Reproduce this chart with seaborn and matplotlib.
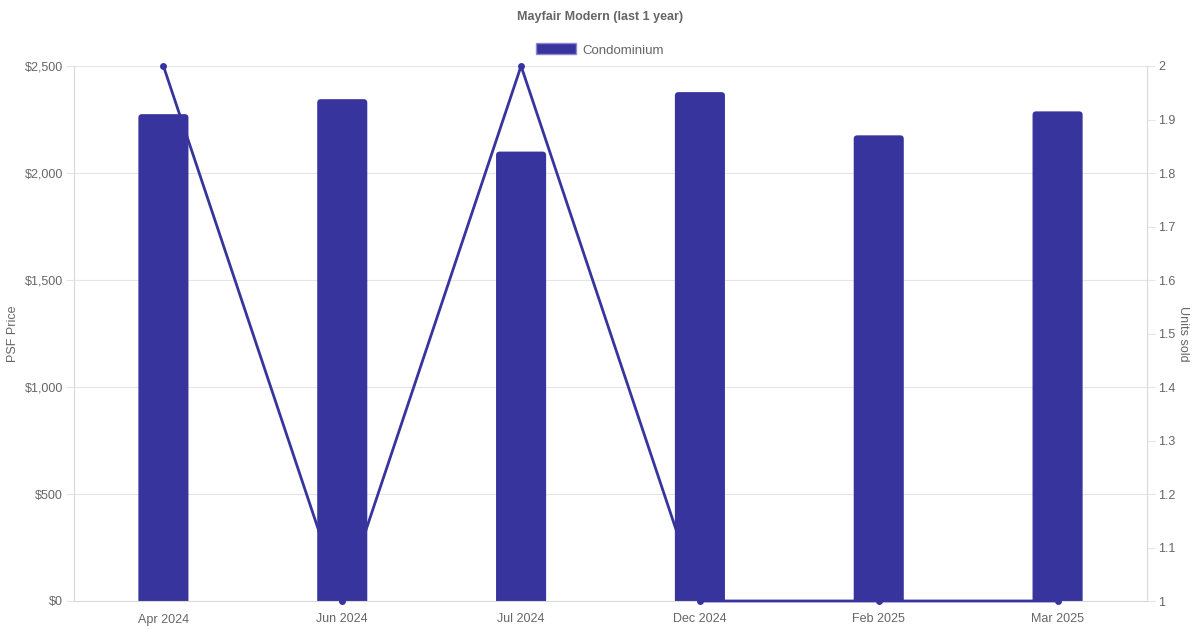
import matplotlib
matplotlib.use("Agg")
import matplotlib.pyplot as plt
import seaborn as sns
import pandas as pd
from matplotlib.patches import FancyBboxPatch, Patch

months = ["Apr 2024", "Jun 2024", "Jul 2024", "Dec 2024", "Feb 2025", "Mar 2025"]
psf_price = [2275, 2345, 2100, 2378, 2176, 2288]
units_sold = [2, 1, 2, 1, 1, 1]

color = "#38349E"
txt = "#666666"
grid = "#E5E5E5"

df = pd.DataFrame({"month": months, "psf": psf_price, "units": units_sold})

sns.set_style("white")
plt.rcParams["font.family"] = ["Liberation Sans", "DejaVu Sans"]

fig = plt.figure(figsize=(12, 6.3), dpi=100)
ax = fig.add_axes([74 / 1200, 1 - 601 / 630, (1147 - 74) / 1200, (601 - 66) / 630])

sns.barplot(data=df, x="month", y="psf", color=color, width=0.28, ax=ax,
            saturation=1, zorder=2)

# rounded top corners on bars (bottom kept square by pushing it below 0)
px_x = 1073 / 6
px_y = 535 / 2500
for p in list(ax.patches):
    x, y = p.get_x(), p.get_y()
    w, h = p.get_width(), p.get_height()
    p.remove()
    ax.add_patch(FancyBboxPatch((x, y - 30), w, h + 30,
                                boxstyle="round,pad=0,rounding_size=0.02",
                                mutation_aspect=px_x / px_y,
                                facecolor=color, edgecolor="none", zorder=2))

ax.set_xlim(-0.5, 5.5)
ax.set_ylim(0, 2500)
ax.set_yticks([0, 500, 1000, 1500, 2000, 2500])
ax.set_yticklabels([f"${v:,}" for v in [0, 500, 1000, 1500, 2000, 2500]])
ax.yaxis.grid(True, color=grid, linewidth=0.8, zorder=0)
ax.set_axisbelow(True)
ax.set_xlabel("")
ax.set_ylabel("PSF Price", color=txt, fontsize=9, labelpad=4)
ax.tick_params(axis="y", colors=txt, labelsize=9, length=6, width=0.8, color=grid, pad=2)
ax.tick_params(axis="x", colors=txt, labelsize=9, length=0, pad=9)
for s in ["top", "right"]:
    ax.spines[s].set_visible(False)
for s in ["left", "bottom"]:
    ax.spines[s].set_color("#D9D9D9")
    ax.spines[s].set_linewidth(0.8)

ax2 = ax.twinx()
sns.lineplot(data=df, x="month", y="units", color=color, linewidth=2,
             marker="o", markersize=5, markeredgewidth=0, ax=ax2,
             sort=False, zorder=3)
ax2.set_ylim(1, 2)
ax2.set_yticks([1 + i / 10 for i in range(11)])
ax2.set_yticklabels(["1", "1.1", "1.2", "1.3", "1.4", "1.5", "1.6", "1.7", "1.8", "1.9", "2"])
ax2.set_ylabel("Units sold", color=txt, fontsize=9, rotation=270, labelpad=10)
ax2.tick_params(axis="y", colors=txt, labelsize=9, length=6, width=0.8, color=grid, pad=2)
for s in ["top", "left", "bottom"]:
    ax2.spines[s].set_visible(False)
ax2.spines["right"].set_color("#D9D9D9")
ax2.spines["right"].set_linewidth(0.8)
for line in ax2.lines:
    line.set_clip_on(False)

fig.text(0.5, 1 - 17 / 630, "Mayfair Modern (last 1 year)", ha="center", va="center",
         fontsize=9, fontweight="bold", color=txt)
fig.legend(handles=[Patch(facecolor=color, edgecolor="#8C89D0", label="Condominium")],
           loc="center", bbox_to_anchor=(0.5, 1 - 50 / 630), frameon=False,
           fontsize=9.5, labelcolor=txt, handlelength=3.0, handleheight=0.9,
           handletextpad=0.5)

fig.savefig("out.png", dpi=100)
